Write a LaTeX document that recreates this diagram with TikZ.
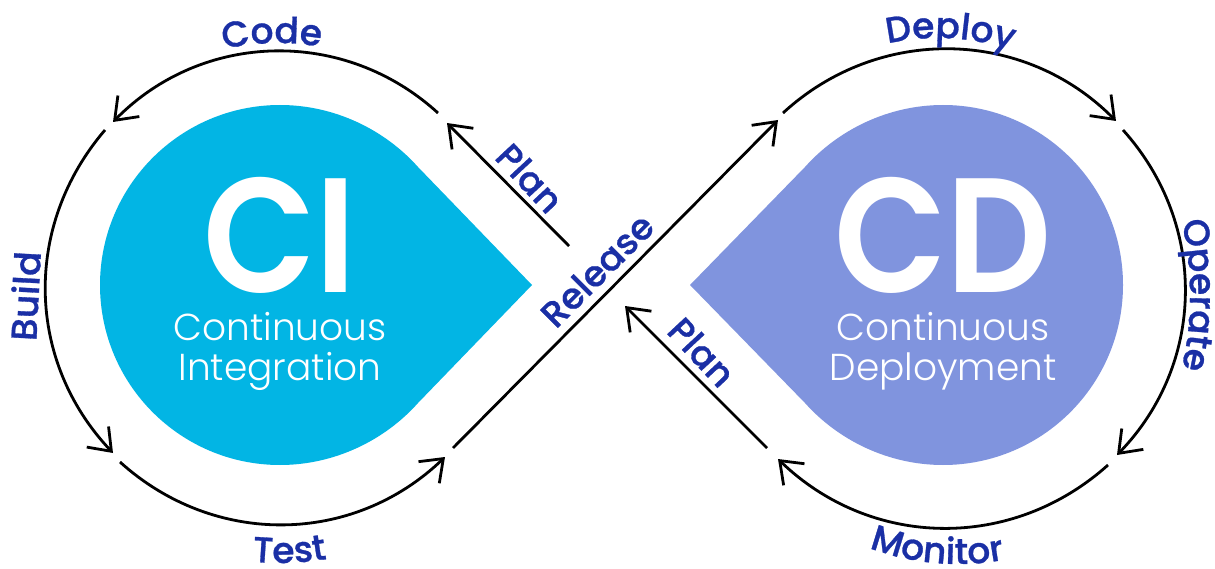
\documentclass[tikz,border=0pt]{standalone}
\usepackage{fontspec}
\usepackage{graphicx}
\usetikzlibrary{arrows.meta,decorations.text}
\setmainfont{Poppins}
\newfontfamily\lightf{Poppins Light}
\newfontfamily\medf[FakeBold=0.8]{Poppins Medium}
\newfontfamily\semif{Poppins SemiBold}
\definecolor{cic}{HTML}{02B5E4}
\definecolor{cdc}{HTML}{8094DE}
\definecolor{lab}{HTML}{1A2FA5}
\newcommand{\labf}{\medf\fontsize{36}{36}\selectfont\color{lab}}
\tikzset{
 flow/.style={draw=black,line width=2.8pt,-{Straight Barb[length=20pt,width=30pt,line width=2.8pt]}},
 steplabel/.style={text=lab,font=\labf,inner sep=0pt},
 bigl/.style={text=white,font=\semif\fontsize{163}{163}\selectfont,inner sep=0pt},
 sublabel/.style={text=white,font=\lightf\fontsize{37.5}{37.5}\selectfont,inner sep=0pt,anchor=base},
 curved/.style={decorate,decoration={text along path,text align=center,text={|\labf|#1}}},
}
\begin{document}
\begin{tikzpicture}[x=1pt,y=-1pt]
\useasboundingbox (0,0) rectangle (1215,569);
\fill[cic] (532,285) -- (418,167) .. controls (385,130) and (335,105) .. (280,105)
 .. controls (180.6,105) and (100,185.6) .. (100,285)
 .. controls (100,384.4) and (180.6,465) .. (280,465)
 .. controls (335,465) and (385,440) .. (418,403) -- cycle;
\fill[cdc] (690,285) -- (805,167) .. controls (838,130) and (888,105) .. (943,105)
 .. controls (1042.4,105) and (1123,185.6) .. (1123,285)
 .. controls (1123,384.4) and (1042.4,465) .. (943,465)
 .. controls (888,465) and (838,440) .. (805,403) -- cycle;
\node[bigl] (ci) at (280,235) {\scalebox{.9}[1]{CI}};
\node[bigl] (cd) at (943,235) {\scalebox{.9}[1]{CD}};
\node[sublabel] (ci1) at (280,340) {Continuous};
\node[sublabel] (ci2) at (280,380) {Integration};
\node[sublabel] (cd1) at (943,340) {Continuous};
\node[sublabel] (cd2) at (943,380) {Deployment};
\coordinate (a1) at (438,113); \coordinate (a2) at (113,122);
\coordinate (b1) at (105,130); \coordinate (b2) at (113,453);
\coordinate (c1) at (120,462); \coordinate (c2) at (445,457);
\coordinate (d1) at (569,246); \coordinate (d2) at (447,123);
\coordinate (e1) at (453,448); \coordinate (e2) at (778,120);
\coordinate (f1) at (783,113); \coordinate (f2) at (1116,121);
\coordinate (g1) at (1123,130); \coordinate (g2) at (1117,455);
\coordinate (h1) at (1108,465); \coordinate (h2) at (778,459);
\coordinate (i1) at (767,448); \coordinate (i2) at (625,306);
\draw[flow] (a1) to[bend right=44] (a2);
\draw[flow] (b1) to[bend right=42] (b2);
\draw[flow] (c1) to[bend right=43] (c2);
\draw[flow] (d1) -- (d2);
\draw[flow] (e1) -- (e2);
\draw[flow] (f1) to[bend left=44] (f2);
\draw[flow] (g1) to[bend left=43] (g2);
\draw[flow] (h1) to[bend left=43] (h2);
\draw[flow] (i1) -- (i2);
\path[curved=Code] (278,286) ++(228.6:243) arc[start angle=228.6,end angle=308.6,radius=243];
\node[steplabel,rotate=87] (l2) at (25,296) {Build};
\path[curved=Test] (280,285) ++(128:278) arc[start angle=128,end angle=48,radius=278];
\node[steplabel,rotate=-47] (l4) at (530,178) {Plan};
\node[steplabel,rotate=45] (l5) at (597,270) {Release};
\path[curved=Deploy] (938,268) ++(233:230) arc[start angle=233,end angle=313,radius=230];
\path[curved=Operate] (860,295) ++(-35:330) arc[start angle=-35,end angle=35,radius=330];
\path[curved=Monitor] (958,313) ++(135:251) arc[start angle=135,end angle=55,radius=251];
\node[steplabel,rotate=-47] (l9) at (702,352) {Plan};
\end{tikzpicture}
\end{document}
